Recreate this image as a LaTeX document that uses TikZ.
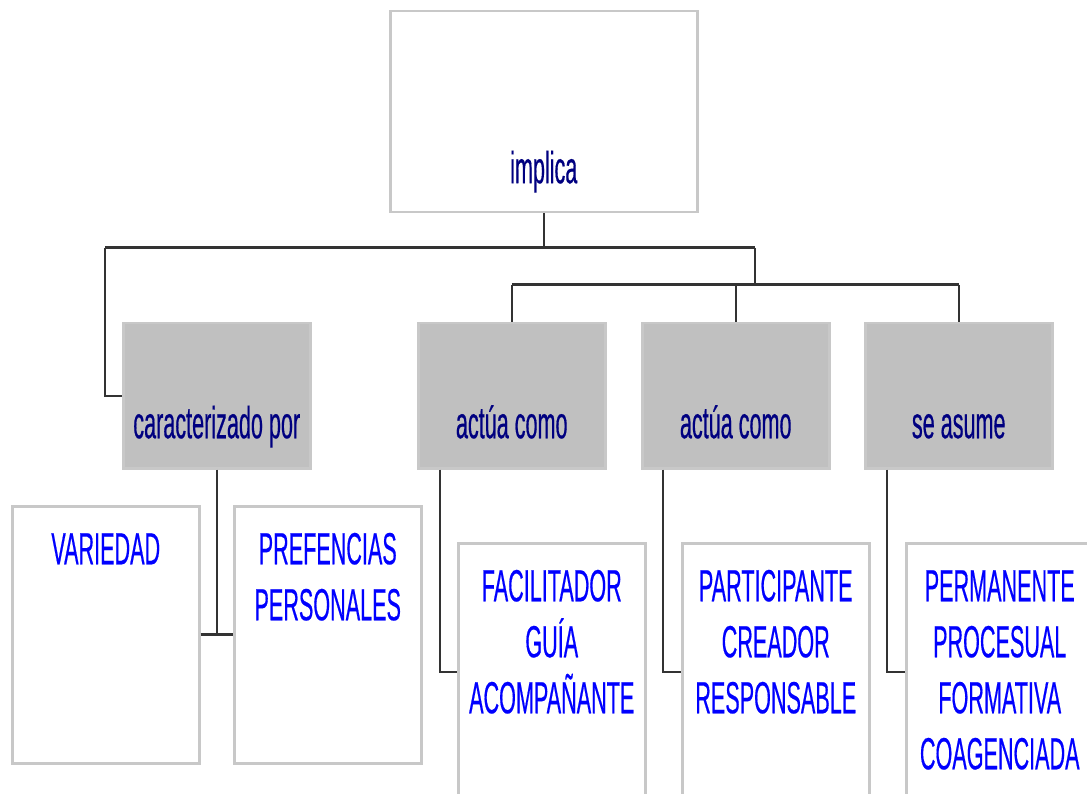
\documentclass[tikz,border=0pt]{standalone}
\usepackage{fontspec}
\setmainfont[FakeStretch=0.48,FakeBold=0.35]{Liberation Sans}
\usepackage{tikz}
\definecolor{boxline}{HTML}{C8C8C8}
\definecolor{boxgray}{HTML}{C0C0C0}
\definecolor{navyink}{HTML}{000080}
\definecolor{capsink}{HTML}{0000FF}
\definecolor{wire}{HTML}{333333}
\begin{document}
\begin{tikzpicture}[x=1pt,y=1pt,
        box/.style={draw=boxline,line width=2.5pt,inner sep=0pt,anchor=north west,
            font=\fontsize{45pt}{56pt}\selectfont},
        topbox/.style={box,fill=white,text=navyink,minimum width=307pt,
            text height=172pt,text depth=29pt},
        graybox/.style={box,fill=boxgray,text=navyink,minimum width=187pt,
            text height=115pt,text depth=30pt},
        capsbox/.style={box,fill=white,text=capsink,text width=187pt,align=center,
            text height=58pt,text depth=199pt},
        bar/.style={wire,line width=3pt},
        link/.style={wire,line width=2pt}]
        \useasboundingbox (0,0) rectangle (1087,-794);
        \fill[white] (0,0) rectangle (1087,-794);
        % top
        \node[topbox] (impl) at (389,-10) {implica};
        % gray row
        \node[graybox] (carac) at (122,-322) {caracterizado por};
        \node[graybox] (actA) at (417,-322) {actúa como};
        \node[graybox] (actB) at (641,-322) {actúa como};
        \node[graybox] (asume) at (864,-322) {se asume};
        % lower boxes
        \node[capsbox] (vari) at (11,-505) {VARIEDAD};
        \node[capsbox] (pref) at (233,-505) {PREFENCIAS\\PERSONALES};
        \node[capsbox] (facil) at (457,-542) {FACILITADOR\\GUÍA\\ACOMPAÑANTE};
        \node[capsbox] (parti) at (681,-542) {PARTICIPANTE\\CREADOR\\RESPONSABLE};
        \node[capsbox] (perma) at (905,-542) {PERMANENTE\\PROCESUAL\\FORMATIVA\\COAGENCIADA};
        % connectors
        \coordinate (barL) at (105,-248);
        \coordinate (barR) at (755,-248);
        \coordinate (subL) at (actA.north |- 0,-285);
        \coordinate (subR) at (asume.north |- 0,-285);
        \draw[link] (impl.south) -- (impl.south |- barL);
        \draw[bar] (barL) -- (barR);
        \draw[link] (barL) |- (carac.west);
        \draw[link] (barR) -- (barR |- subL);
        \draw[bar] (subL) -- (subR);
        \foreach \g in {actA,actB,asume}
            \draw[link] (\g.north |- subL) -- (\g.north);
        \draw[link] (carac.south) -- (carac.south |- vari.east);
        \draw[bar] (vari.east) -- (pref.west);
        \draw[link] ([xshift=23pt]actA.south west) |- (facil.west);
        \draw[link] ([xshift=22pt]actB.south west) |- (parti.west);
        \draw[link] ([xshift=23pt]asume.south west) |- (perma.west);
\end{tikzpicture}
\end{document}
